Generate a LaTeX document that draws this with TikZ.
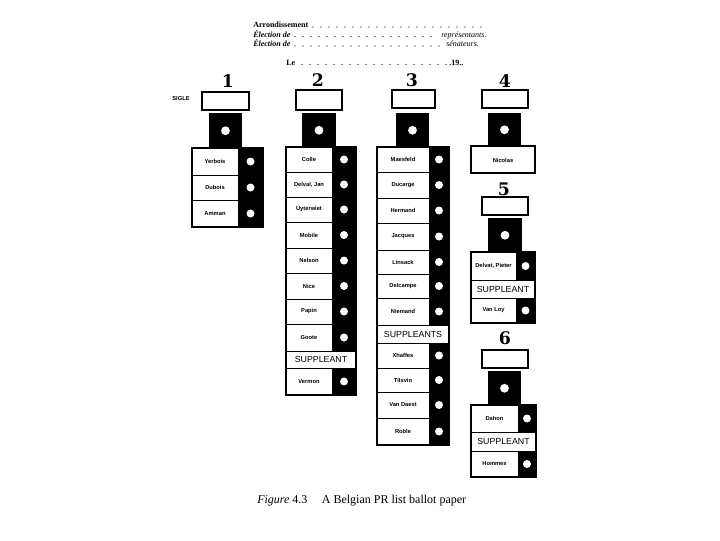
\documentclass[tikz,border=0pt]{standalone}
\usepackage{fontspec}
\setmainfont{Liberation Serif}
\newfontfamily\namesf{Liberation Sans}
\newfontfamily\numsf{DejaVu Serif}
\newcommand\candrow[7]{%
  \fill[white] (#1,#4) rectangle (#2,#5);
  \draw[thinline] (#1,#4) rectangle (#2,#5);
  \fill[black] (#2,#4) rectangle (#3,#5);
  \fill[white] ({(#2+#3)/2},{(#4+#5)/2}) circle (3pt);
  \node[namelbl] (#7) at ({(#1+#2)/2},{(#4+#5)/2}) {#6};
}
\newcommand\suprow[6]{%
  \fill[white] (#1,#3) rectangle (#2,#4);
  \draw[thinline] (#1,#3) rectangle (#2,#4);
  \node[suplbl] (#6) at ({(#1+#2)/2},{(#3+#4)/2}) {#5};
}
\newcommand\headpart[5]{%
  \draw[boxline] (#1,#3) rectangle (#2,#4);
}
\newcommand\blacksq[4]{%
  \fill[black] (#1,#3) rectangle (#2,#4);
  \fill[white] ({(#1+#2)/2},{(#3+#4)/2}) circle (3.3pt);
}
\begin{document}
\begin{tikzpicture}[x=0.75pt,y=-0.75pt,
  thinline/.style={draw=black,line width=0.5pt},
  boxline/.style={draw=black,line width=1.4pt,fill=white},
  outline/.style={draw=black,line width=1.1pt},
  namelbl/.style={font=\namesf\bfseries\fontsize{4.3}{5}\selectfont,inner sep=0pt},
  suplbl/.style={font=\namesf\fontsize{6.6}{8}\selectfont,inner sep=0pt},
  numlbl/.style={font=\numsf\bfseries\fontsize{13}{13}\selectfont,inner sep=0pt},
  hdr/.style={font=\fontsize{6}{7}\selectfont,inner sep=0pt,anchor=base west},
  dotc/.style={fill=black}]
\useasboundingbox (0,0) rectangle (720,540);
\fill[white] (0,0) rectangle (720,540);

% ---------- header ----------
\node[hdr] (arr) at (253,27.5) {\bfseries Arrondissement};
\foreach \x in {313,321,...,487} \fill[dotc] (\x,27) circle (0.45pt);
\node[hdr] (el1) at (253,37) {\bfseries\itshape Élection de};
\foreach \x in {295,303,...,436} \fill[dotc] (\x,36.5) circle (0.45pt);
\node[hdr] (rep) at (441,37) {\itshape représentants.};
\node[hdr] (el2) at (253,46.5) {\bfseries\itshape Élection de};
\foreach \x in {295,303,...,440} \fill[dotc] (\x,46) circle (0.45pt);
\node[hdr] (sen) at (446,46.5) {\itshape sénateurs.};
\node[hdr] (le) at (286,65) {\bfseries Le};
\foreach \x in {302,310,...,446} \fill[dotc] (\x,64.5) circle (0.45pt);
\node[hdr] (dix) at (449,65) {\bfseries .19..};

% ---------- numbers ----------
\node[numlbl] (n1) at (228,81) {1};
\node[numlbl] (n2) at (318,80) {2};
\node[numlbl] (n3) at (412,80) {3};
\node[numlbl] (n4) at (505,81) {4};
\node[numlbl] (n5) at (504,189) {5};
\node[numlbl] (n6) at (505,338) {6};

\node[namelbl] (sigle) at (181,98.5) {SIGLE};

% ---------- column 1 ----------
\headpart{202}{249}{92}{110}{}
\blacksq{209}{242}{113}{148.5}
\candrow{192}{238}{263}{148}{175}{Yerbois}{a1}
\candrow{192}{238}{263}{175}{200}{Dubois}{a2}
\candrow{192}{238}{263}{200}{227}{Amman}{a3}
\draw[outline] (192,148) rectangle (263,227);

% ---------- column 2 ----------
\headpart{296}{342}{90}{110}{}
\blacksq{302}{336}{113}{147.5}
\candrow{286}{332}{356}{147}{172}{Colle}{b1}
\candrow{286}{332}{356}{172}{197}{Delval, Jan}{b2}
\candrow{286}{332}{356}{197}{222}{Uyterwiet}{b3}
\candrow{286}{332}{356}{222}{248}{Mobile}{b4}
\candrow{286}{332}{356}{248}{273}{Nelson}{b5}
\candrow{286}{332}{356}{273}{299}{Nice}{b6}
\candrow{286}{332}{356}{299}{324}{Papin}{b7}
\candrow{286}{332}{356}{324}{351}{Goote}{b8}
\suprow{286}{356}{351}{368}{SUPPLEANT}{bs}
\candrow{286}{332}{356}{368}{395}{Vermon}{b9}
\draw[outline] (286,147) rectangle (356,395);

% ---------- column 3 ----------
\headpart{392}{435}{90}{108}{}
\blacksq{396}{429}{113}{147.5}
\candrow{377}{429}{449}{147}{172}{Maesfeld}{c1}
\candrow{377}{429}{449}{172}{198}{Ducarge}{c2}
\candrow{377}{429}{449}{198}{223}{Hermand}{c3}
\candrow{377}{429}{449}{223}{250}{Jacques}{c4}
\candrow{377}{429}{449}{250}{274}{Linsack}{c5}
\candrow{377}{429}{449}{274}{298}{Delcampe}{c6}
\candrow{377}{429}{449}{298}{325}{Niemand}{c7}
\suprow{377}{449}{325}{343}{SUPPLEANTS}{cs}
\candrow{377}{429}{449}{343}{368}{Xhaffes}{c8}
\candrow{377}{429}{449}{368}{392}{Tilsvin}{c9}
\candrow{377}{429}{449}{392}{418}{Van Daest}{c10}
\candrow{377}{429}{449}{418}{445}{Roble}{c11}
\draw[outline] (377,147) rectangle (449,445);

% ---------- column 4 ----------
\headpart{482}{528}{90}{108}{}
\blacksq{488}{521}{113}{146.5}
\fill[white] (471,146) rectangle (535,173);
\node[namelbl] (d1) at (503,160) {Nicolas};
\draw[outline] (471,146) rectangle (535,173);

% ---------- column 5 ----------
\headpart{482}{528}{197}{215}{}
\blacksq{488}{522}{218}{252.5}
\candrow{471}{516}{535}{252}{280}{Delvat, Pieter}{e1}
\suprow{471}{535}{280}{298}{SUPPLEANT}{es}
\candrow{471}{516}{535}{298}{323}{Van Loy}{e2}
\draw[outline] (471,252) rectangle (535,323);

% ---------- column 6 ----------
\headpart{482}{528}{350}{368}{}
\blacksq{488}{521}{371}{405.5}
\candrow{471}{518}{536}{405}{432}{Dahon}{f1}
\suprow{471}{536}{432}{451}{SUPPLEANT}{fs}
\candrow{471}{518}{536}{451}{477}{Hommes}{f2}
\draw[outline] (471,405) rectangle (536,477);

% ---------- caption ----------
\node[inner sep=0pt,anchor=base west,font=\fontsize{9}{10}\selectfont] (cap) at (257,503)
  {\textit{Figure} 4.3\hspace{1.2em}A Belgian PR list ballot paper};
\end{tikzpicture}
\end{document}
